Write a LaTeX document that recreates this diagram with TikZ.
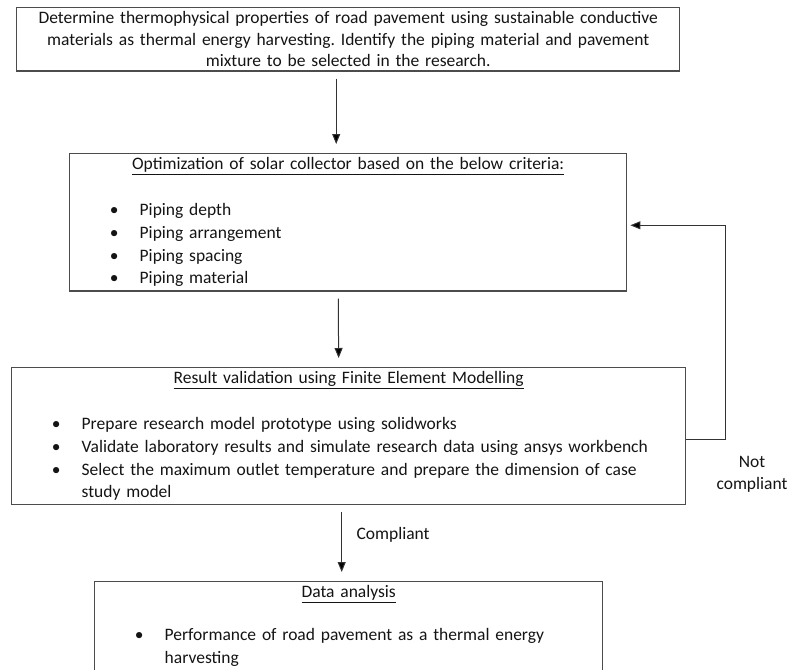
\documentclass[tikz,border=0pt]{standalone}
\usepackage{fontspec}
\setmainfont{Carlito}
\usetikzlibrary{arrows.meta}
\frenchspacing

\newenvironment{critlist}{%
  \begin{list}{\textbullet}{%
    \setlength{\leftmargin}{70pt}\setlength{\labelsep}{21pt}%
    \setlength{\itemsep}{0pt}\setlength{\parsep}{0pt}%
    \setlength{\topsep}{0pt}\setlength{\partopsep}{0pt}}}%
  {\end{list}}

\tikzset{
  stagebox/.style={draw=black!70, line width=1.4pt, anchor=north west,
    inner xsep=0pt, inner ysep=4pt, align=left, text=black!92,
    font=\fontsize{17.5}{22.8}\selectfont},
  flow/.style={draw=black!80, line width=1pt,
    -{Triangle[length=10pt,width=8pt,fill=black]}, shorten <=7pt, shorten >=9pt},
  flowlabel/.style={text=black!92, font=\fontsize{17.5}{22}\selectfont}
}

\begin{document}
\begin{tikzpicture}[x=1pt,y=-1pt]
        \useasboundingbox (0,0) rectangle (791,669);
        \clip (0,0) rectangle (791,669);
        \node[stagebox, text width=663pt, align=center,
          font=\fontsize{17.5}{21.5}\selectfont] at (16, 7) (prop)
          {Determine thermophysical properties of road pavement using sustainable conductive\\
           materials as thermal energy harvesting. Identify the piping material and pavement\\
           mixture to be selected in the research.};
        \node[stagebox, text width=557pt] at (69, 153) (opt)
          {{\centering\underline{Optimization of solar collector based on the below criteria:}\par}
           \vspace{\baselineskip}
           \begin{critlist}
             \item Piping depth
             \item Piping arrangement
             \item Piping spacing
             \item Piping material
           \end{critlist}};
        \node[stagebox, text width=674pt] at (11, 367) (valid)
          {{\centering\underline{Result validation using Finite Element Modelling}\par}
           \vspace{\baselineskip}
           \begin{critlist}
             \item Prepare research model prototype using solidworks
             \item Validate laboratory results and simulate research data using ansys workbench
             \item Select the maximum outlet temperature and prepare the dimension of case\newline study model
           \end{critlist}};
        \node[stagebox, text width=508pt] at (94, 581) (data)
          {{\centering\underline{Data analysis}\par}
           \vspace{20pt}
           \begin{critlist}
             \item Performance of road pavement as a thermal energy\newline harvesting
           \end{critlist}
           \vspace*{30pt}};
        \node[flowlabel, align=center] at (752, 474) (nocomp) {Not\\compliant};
        \draw[flow] ([xshift=-12pt]prop.south) -- ([xshift=-12pt]opt.north);
        \draw[flow] ([xshift=-10pt]opt.south) -- ([xshift=-10pt]valid.north);
        \draw[flow] ([xshift=-7pt]valid.south) -- ([xshift=-7pt]data.north)
          node[flowlabel, pos=0.39, right=11pt] (comp) {Compliant};
        \draw[flow, shorten <=0pt, shorten >=3pt] ([yshift=-3pt]valid.east) -- ++(39,0) |- ([yshift=-3pt]opt.east);
    \end{tikzpicture}
\end{document}
